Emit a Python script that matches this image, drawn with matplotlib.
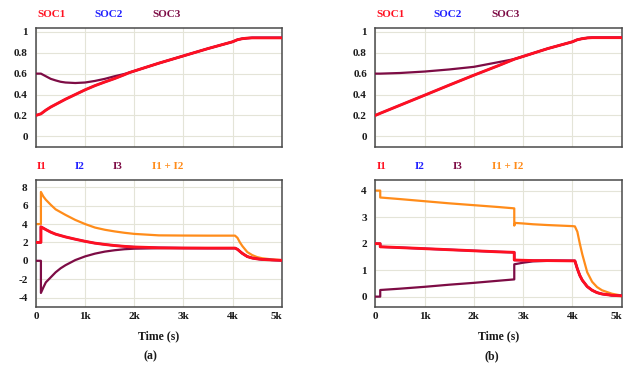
import matplotlib
matplotlib.use("Agg")
import matplotlib.pyplot as plt

plt.rcParams['font.family'] = ['Liberation Serif', 'DejaVu Serif']
plt.rcParams['font.weight'] = 'bold'

# ---------------- data (a) ----------------
t_soc_a = [0, 100, 200, 300, 400, 500, 600, 800, 1000, 1200, 1400, 1600, 1800, 1900,
           2000, 2500, 3000, 3500, 4000, 4100, 4200, 4300, 4400, 5000]
soc1_a = [0.20, 0.215, 0.25, 0.28, 0.305, 0.33, 0.355, 0.40, 0.445, 0.485, 0.52, 0.553, 0.59, 0.61,
          0.625, 0.70, 0.77, 0.84, 0.905, 0.925, 0.935, 0.94, 0.943, 0.943]
soc2_a = list(soc1_a)
soc3_a = [0.60, 0.60, 0.575, 0.55, 0.535, 0.522, 0.515, 0.51, 0.515, 0.53, 0.55, 0.575, 0.597, 0.61,
          0.625, 0.70, 0.77, 0.84, 0.905, 0.925, 0.935, 0.94, 0.943, 0.943]

t_cur_a = [0, 100, 100, 150, 200, 300, 400, 500, 600, 800, 1000, 1200, 1400, 1600, 1800,
           2000, 2500, 3000, 3500, 4050, 4100, 4150, 4200, 4300, 4400, 4500, 4600, 4800, 5000]
i1_a = [2.0, 2.0, 3.7, 3.55, 3.4, 3.12, 2.9, 2.75, 2.6, 2.35, 2.12, 1.92, 1.78, 1.66, 1.57,
        1.5, 1.42, 1.39, 1.38, 1.38, 1.25, 1.02, 0.8, 0.46, 0.3, 0.21, 0.15, 0.09, 0.05]
i2_a = list(i1_a)
i3_a = [0.0, 0.0, -3.5, -2.9, -2.35, -1.8, -1.25, -0.82, -0.48, 0.08, 0.48, 0.78, 1.0, 1.15, 1.26,
        1.32, 1.37, 1.38, 1.38, 1.38, 1.25, 1.02, 0.8, 0.46, 0.3, 0.21, 0.15, 0.09, 0.05]
isum_a = [4.0, 4.0, 7.5, 7.0, 6.65, 6.1, 5.6, 5.3, 5.0, 4.45, 4.0, 3.62, 3.38, 3.2, 3.05,
          2.93, 2.77, 2.75, 2.74, 2.74, 2.5, 2.0, 1.6, 0.95, 0.62, 0.4, 0.28, 0.15, 0.07]

# ---------------- data (b) ----------------
t_soc_b = [0, 100, 500, 1000, 1500, 2000, 2500, 2830, 3000, 3500, 4000, 4100, 4200, 4300, 4400, 5000]
soc1_b = [0.20, 0.22, 0.297, 0.393, 0.49, 0.585, 0.677, 0.74, 0.765, 0.84, 0.905, 0.925, 0.935, 0.942, 0.945, 0.945]
soc2_b = list(soc1_b)
soc3_b = [0.60, 0.60, 0.606, 0.62, 0.64, 0.665, 0.71, 0.74, 0.765, 0.84, 0.905, 0.925, 0.935, 0.942, 0.945, 0.945]

t_cur_b = [0, 100, 100, 500, 1000, 1500, 2000, 2500, 2820, 2820, 3000, 3200, 3500, 4000, 4050,
           4100, 4150, 4200, 4300, 4400, 4500, 4600, 4800, 5000]
i1_b = [2.0, 2.0, 1.88, 1.85, 1.81, 1.77, 1.73, 1.69, 1.67, 1.38, 1.37, 1.36, 1.36, 1.35, 1.35,
        1.05, 0.8, 0.62, 0.38, 0.24, 0.15, 0.10, 0.05, 0.03]
i2_b = list(i1_b)
i3_b = [0.0, 0.0, 0.25, 0.30, 0.37, 0.45, 0.52, 0.60, 0.65, 1.22, 1.28, 1.33, 1.35, 1.35, 1.35,
        1.05, 0.8, 0.62, 0.38, 0.24, 0.15, 0.10, 0.05, 0.03]
t_sum_b = [0, 100, 100, 500, 1000, 1500, 2000, 2500, 2820, 2820, 2840, 3000, 3200, 3500, 4000, 4050,
           4100, 4150, 4200, 4300, 4400, 4500, 4600, 4800, 5000]
isum_b = [4.0, 4.0, 3.74, 3.68, 3.6, 3.52, 3.45, 3.38, 3.33, 2.68, 2.78, 2.76, 2.73, 2.7, 2.66, 2.65,
          2.45, 2.0, 1.6, 0.92, 0.56, 0.36, 0.24, 0.11, 0.04]

x_ticks = [0, 1000, 2000, 3000, 4000, 5000]
x_labels = ['0', '1k', '2k', '3k', '4k', '5k']
soc_ticks = [0, 0.2, 0.4, 0.6, 0.8, 1]
soc_labels = ['0', '0.2', '0.4', '0.6', '0.8', '1']
cur_ticks_a = [-4, -2, 0, 2, 4, 6, 8]
cur_ticks_b = [0, 1, 2, 3, 4]

soc_names = ['SOC1', 'SOC2', 'SOC3']
cur_names = ['I1', 'I2', 'I3', 'I1 + I2']

C_RED = '#ff1020'
C_BLUE = '#2020ff'
C_MAROON = '#7d0c45'
C_ORANGE = '#ff8c1a'
GRID = '#e4e4d8'
SPINE = '#4a4a4a'

W, H = 631, 371
fig = plt.figure(figsize=(W / 100, H / 100), dpi=100)


def px_axes(x0, y_top, x1, y_bot):
    return fig.add_axes([x0 / W, 1 - y_bot / H, (x1 - x0) / W, (y_bot - y_top) / H])


def style(ax, yticks, ylabels, ylim, xlabels):
    ax.set_xlim(0, 5000)
    ax.set_ylim(*ylim)
    ax.set_xticks(x_ticks)
    ax.set_yticks(yticks)
    ax.set_yticklabels(ylabels)
    if xlabels:
        ax.set_xticklabels(x_labels)
        ax.get_xticklabels()[-1].set_ha('right')
    else:
        ax.set_xticklabels([])
    ax.tick_params(length=0, labelsize=8, colors='#1a1a1a')
    ax.tick_params(axis='y', pad=6)
    ax.tick_params(axis='x', pad=4)
    ax.grid(True, color=GRID, linewidth=0.8)
    ax.set_axisbelow(True)
    for s in ax.spines.values():
        s.set_color(SPINE)
        s.set_linewidth(1.1)


def legend_texts(ax, names, colors, xs, y):
    for n, c, x in zip(names, colors, xs):
        ax.text(x, y, n, color=c, fontsize=8, fontweight='bold', transform=ax.transAxes,
                ha='left', va='center')


leg_x = [0.004, 0.236, 0.472]
leg_x_cur = [0.004, 0.159, 0.313, 0.472]

for x0, x1, t_soc, s1, s2, s3, t_cur, a1, a2, a3, t_sum, asum, cticks, clim, tag, tagx in [
    (36, 281.7, t_soc_a, soc1_a, soc2_a, soc3_a, t_cur_a, i1_a, i2_a, i3_a, t_cur_a, isum_a,
     cur_ticks_a, (-5.0, 8.8), '(a)', 150),
    (375.3, 621.7, t_soc_b, soc1_b, soc2_b, soc3_b, t_cur_b, i1_b, i2_b, i3_b, t_sum_b, isum_b,
     cur_ticks_b, (-0.38, 4.4), '(b)', 491.5),
]:
    ax1 = px_axes(x0, 27.7, x1, 146.7)
    ax1.plot(t_soc, s3, color=C_MAROON, lw=1.6, zorder=3)
    ax1.plot(t_soc, s2, color=C_BLUE, lw=1.6, zorder=4)
    ax1.plot(t_soc, s1, color=C_RED, lw=2.1, zorder=5)
    style(ax1, soc_ticks, soc_labels, (-0.1, 1.04), False)
    legend_texts(ax1, soc_names, [C_RED, C_BLUE, C_MAROON], leg_x, 1.107)

    ax2 = px_axes(x0, 180, x1, 306.7)
    ax2.plot(t_sum, asum, color=C_ORANGE, lw=1.6, zorder=2)
    ax2.plot(t_cur, a3, color=C_MAROON, lw=1.6, zorder=3)
    ax2.plot(t_cur, a2, color=C_BLUE, lw=1.6, zorder=4)
    ax2.plot(t_cur, a1, color=C_RED, lw=2.1, zorder=5)
    style(ax2, cticks, [str(v) for v in cticks], clim, True)
    legend_texts(ax2, cur_names, [C_RED, C_BLUE, C_MAROON, C_ORANGE], leg_x_cur, 1.103)
    ax2.set_xlabel('Time (s)', fontsize=8.5, fontweight='bold', color='#1a1a1a')
    ax2.xaxis.set_label_coords(0.5, -0.185)
    fig.text(tagx / W, 1 - 356.7 / H, tag, fontsize=8.5, fontweight='bold', color='#1a1a1a',
             ha='center', va='center')

fig.savefig('out.png', dpi=100)
